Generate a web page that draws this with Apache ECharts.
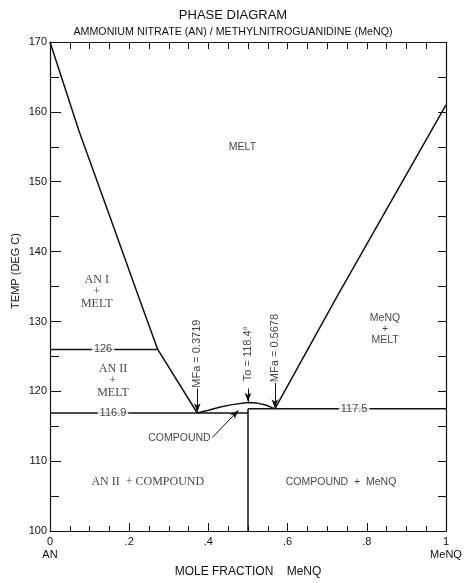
<!DOCTYPE html>
<html>
<head>
<meta charset="utf-8">
<script src="https://cdn.jsdelivr.net/npm/echarts@6/dist/echarts.min.js"></script>
<style>html,body{margin:0;padding:0;background:#fff}#c{width:466px;height:583px}</style>
</head>
<body>
<div id="c"></div>
<script>
// ---- data ----
var xTicks = [0, 0.2, 0.4, 0.6, 0.8, 1];
var xTickLabels = ['0\nAN', '.2', '.4', '.6', '.8', '1\nMeNQ'];
var yTicks = [100, 110, 120, 130, 140, 150, 160, 170];
var leftLiquidus = [[0, 170], [0.073, 157.3], [0.15, 145.2], [0.219, 134.3], [0.272, 126], [0.3719, 116.9]];
var dome = [[0.3719, 116.9], [0.40, 117.3], [0.43, 117.75], [0.46, 118.1], [0.49, 118.35], [0.5, 118.4], [0.52, 118.35], [0.545, 118.05], [0.5678, 117.5]];
var rightLiquidus = [[0.5678, 117.5], [0.725, 133.6], [1, 161]];
var line126 = [[0, 126], [0.272, 126]];
var line1169 = [[0, 116.9], [0.5, 116.9]];
var line1175 = [[0.5, 117.5], [1, 117.5]];
var compoundVertical = [[0.5, 100], [0.5, 117.5]];
var lineLabels = [
  {value: [0.134, 126], text: '126'},
  {value: [0.159, 116.9], text: '116.9'},
  {value: [0.768, 117.5], text: '117.5'}
];
var regionLabelsSerif = [
  {value: [0.118, 134.3], text: 'AN I\n+\nMELT'},
  {value: [0.159, 121.5], text: 'AN II\n+\nMELT'},
  {value: [0.247, 107], text: 'AN II  + COMPOUND'}
];
var regionLabelsSans = [
  {value: [0.486, 155], text: 'MELT'},
  {value: [0.846, 128.9], text: 'MeNQ\n+\nMELT'},
  {value: [0.735, 107], text: 'COMPOUND  +  MeNQ'},
  {value: [0.327, 113.3], text: 'COMPOUND'}
];
var vertAnnot = [
  {value: [0.3719, 125.4], text: 'MFa = 0.3719'},
  {value: [0.5, 125.4], text: 'To = 118.4°'},
  {value: [0.5678, 126.2], text: 'MFa = 0.5678'}
];
var arrows = [
  [[0.3719, 120.4], [0.3719, 117.0]],
  [[0.5, 120.4], [0.5, 118.5]],
  [[0.5678, 121.2], [0.5678, 117.6]]
];
var compoundArrow = [[0.41, 113.4], [0.476, 117.3]];

// ---- chart ----
var chart = echarts.init(document.getElementById('c'));
var black = '#111';
var sans = 'Liberation Sans, Arial, sans-serif';
var serif = 'Liberation Serif, Times New Roman, serif';

function lineSeries(data) {
  return {type: 'line', data: data, symbol: 'none', smooth: false, xAxisIndex: 0, yAxisIndex: 0,
    lineStyle: {color: black, width: 1.5}, silent: true, z: 3};
}
function textSeries(items, font, size, lh, extra) {
  return {type: 'scatter', symbolSize: 0, silent: true, z: 5,
    data: items.map(function (d) { return {value: d.value, text: d.text}; }),
    label: Object.assign({show: true, position: 'inside', formatter: function (p) { return p.data.text; },
      color: black, fontFamily: font, fontSize: size, lineHeight: lh, align: 'center', verticalAlign: 'middle'}, extra || {})};
}

var xLabelMap = {};
xTicks.forEach(function (t, i) { xLabelMap[t.toFixed(1)] = xTickLabels[i]; });

var option = {
  animation: false,
  backgroundColor: '#fff',
  title: [
    {text: 'PHASE DIAGRAM', left: 'center', top: 4, textStyle: {fontFamily: sans, fontSize: 13, fontWeight: 'normal', color: black}},
    {text: 'AMMONIUM NITRATE (AN) / METHYLNITROGUANIDINE (MeNQ)', left: 'center', top: 22, textStyle: {fontFamily: sans, fontSize: 10.7, fontWeight: 'normal', color: black}}
  ],
  grid: {left: 50, right: 20, top: 42, bottom: 38, show: false},
  xAxis: [
    {type: 'value', min: 0, max: 1, interval: 0.2, position: 'bottom',
      axisLine: {show: true, onZero: false, lineStyle: {color: black, width: 1.2}},
      axisTick: {show: true, inside: true, length: 8, lineStyle: {color: black}},
      minorTick: {show: true, splitNumber: 4, length: 5, lineStyle: {color: black}},
      splitLine: {show: false},
      axisLabel: {color: black, fontFamily: sans, fontSize: 11, margin: 4, lineHeight: 13,
        formatter: function (v) { return xLabelMap[v.toFixed(1)]; }},
      name: 'MOLE FRACTION    MeNQ', nameLocation: 'middle', nameGap: 28,
      nameTextStyle: {color: black, fontFamily: sans, fontSize: 12}},
    {type: 'value', min: 0, max: 1, interval: 0.2, position: 'top',
      axisLine: {show: true, onZero: false, lineStyle: {color: black, width: 1.2}},
      axisTick: {show: true, inside: true, length: 7, lineStyle: {color: black}},
      minorTick: {show: true, splitNumber: 4, length: 7, lineStyle: {color: black}},
      splitLine: {show: false}, axisLabel: {show: false}}
  ],
  yAxis: [
    {type: 'value', min: 100, max: 170, interval: 10, position: 'left',
      axisLine: {show: true, onZero: false, lineStyle: {color: black, width: 1.2}},
      axisTick: {show: true, inside: true, length: 11, lineStyle: {color: black}},
      minorTick: {show: true, splitNumber: 2, length: 9, lineStyle: {color: black}},
      splitLine: {show: false},
      axisLabel: {color: black, fontFamily: sans, fontSize: 11, margin: 3}},
    {type: 'value', min: 100, max: 170, interval: 10, position: 'right',
      axisLine: {show: true, onZero: false, lineStyle: {color: black, width: 1.2}},
      axisTick: {show: true, inside: true, length: 8, lineStyle: {color: black}},
      minorTick: {show: true, splitNumber: 2, length: 8, lineStyle: {color: black}},
      splitLine: {show: false}, axisLabel: {show: false}}
  ],
  graphic: [
    {type: 'text', rotation: Math.PI / 2, silent: true, x: 16, y: 271,
      style: {text: 'TEMP (DEG C)', fill: black, font: '11px ' + sans, align: 'center', verticalAlign: 'middle'}}
  ],
  series: [
    lineSeries(leftLiquidus),
    lineSeries(dome),
    lineSeries(rightLiquidus),
    lineSeries(line126),
    lineSeries(line1169),
    lineSeries(line1175),
    lineSeries(compoundVertical),
    textSeries(lineLabels, sans, 11, 12, {backgroundColor: '#fff', padding: [0, 2]}),
    textSeries(regionLabelsSerif, serif, 12, 12),
    textSeries(regionLabelsSans, sans, 10.5, 11),
    textSeries(vertAnnot, sans, 11, 12, {rotate: 90}),
    {type: 'line', data: [], xAxisIndex: 0, yAxisIndex: 0, silent: true,
      markLine: {silent: true, symbol: ['none', 'arrow'], symbolSize: [5, 9], animation: false,
        label: {show: false}, lineStyle: {color: black, width: 1, type: 'solid'},
        data: arrows.map(function (a) { return [{coord: a[0]}, {coord: a[1]}]; }).concat([
          [{coord: compoundArrow[0], lineStyle: {curveness: -0.35}}, {coord: compoundArrow[1]}]
        ])}}
  ]
};
chart.setOption(option);
</script>
</body>
</html>
